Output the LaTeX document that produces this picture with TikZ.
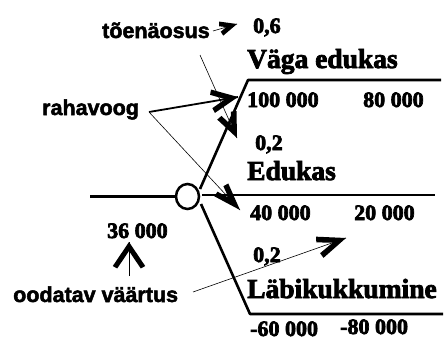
\documentclass[tikz,border=0pt]{standalone}
\usepackage{fontspec}
\setmainfont{Liberation Serif}
\newfontfamily\sansf{Liberation Sans}
\usetikzlibrary{calc,shapes.geometric}
\newcommand\heavy[2]{\special{pdf:literal direct 2 Tr #1 w}#2\special{pdf:literal direct 0 Tr}}
\begin{document}
\begin{tikzpicture}[x=1pt,y=-1pt,
  tree/.style={line width=2.6pt,line join=round},
  lbl/.style={font=\sansf\bfseries\fontsize{21.5}{24}\selectfont,anchor=base west,inner sep=0pt},
  num/.style={font=\bfseries\fontsize{22}{24}\selectfont,anchor=base west,inner sep=0pt},
  outc/.style={font=\bfseries\fontsize{27.5}{30}\selectfont,anchor=base west,inner sep=0pt},
  thinarr/.style={line width=0.6pt},
  thickarr/.style={line width=1.8pt}
]
\useasboundingbox (0,0) rectangle (445,340);

% texts
\node[lbl] (tn) at (102,38) {\heavy{0.5}{tõenäosus}};
\node[num] (p1) at (253,33) {\heavy{0.7}{0,6}};
\node[outc] (ve) at (247,68) {\heavy{0.8}{Väga edukas}};
\node[num] (v1a) at (247,107) {\heavy{0.7}{100 000}};
\node[num] (v1b) at (363,107) {\heavy{0.7}{80 000}};
\node[lbl] (rv) at (42,115) {\heavy{0.5}{rahavoog}};
\node[num] (p2) at (255,150) {\heavy{0.7}{0,2}};
\node[outc] (ed) at (247,180) {\heavy{0.8}{Edukas}};
\node[num] (v2a) at (250,220) {\heavy{0.7}{40 000}};
\node[num] (v2b) at (354,220) {\heavy{0.7}{20 000}};
\node[num] (ev) at (107,238) {\heavy{0.7}{36 000}};
\node[num] (p3) at (253,262) {\heavy{0.7}{0,2}};
\node[outc] (lk) at (247,298) {\heavy{0.8}{Läbikukkumine}};
\node[lbl] (ov) at (13,302) {\heavy{0.5}{oodatav väärtus}};
\node[num] (v3a) at (250,336) {\heavy{0.7}{-60 000}};
\node[num] (v3b) at (340,334) {\heavy{0.7}{-80 000}};

% tree
\coordinate (root) at (90,196.5);
\node[draw,ellipse,line width=2.5pt,minimum width=23pt,minimum height=25pt,inner sep=0pt] (ch) at (187.5,196.5) {};
\coordinate (u0) at (200,189);
\coordinate (u1) at (248,80);
\coordinate (u2) at (441,80);
\coordinate (m0) at (202,195);
\coordinate (m1) at (435,195);
\coordinate (l0) at (201,204);
\coordinate (l1) at (250,314);
\coordinate (l2) at (443,314);
\draw[tree] (root) -- (ch.west);
\draw[tree] (u0) -- (u1) -- (u2);
\draw[tree] (m0) -- (m1);
\draw[tree] (l0) -- (l1) -- (l2);

% annotation arrows: shaft, then a filled open head
% #1 start, #2 tip, #3 barb length, #4 half angle, #5 inner angle, #6 notch distance
\newcommand\arrhead[6]{%
  \fill ($(#2)!#3!#4:(#1)$) -- (#2) -- ($(#2)!#3!-#4:(#1)$) --
        ($(#2)!#3!-#5:(#1)$) -- ($(#2)!#6!(#1)$) -- ($(#2)!#3!#5:(#1)$) -- cycle;}

\coordinate (a1s) at (213,31);
\coordinate (a1e) at (237,24);
\draw[thinarr] (a1s) -- (a1e);
\arrhead{a1s}{a1e}{18pt}{24}{9}{11pt}

\coordinate (rvs) at (149,112);
\coordinate (a2e) at (238,97);
\draw[thickarr] (rvs) -- (a2e);
\arrhead{rvs}{a2e}{28pt}{25}{14}{13pt}
\coordinate (a3e) at (240,210);
\draw[thinarr] (rvs) -- (a3e);
\arrhead{rvs}{a3e}{29pt}{19}{8}{17pt}

\coordinate (a4s) at (200,55);
\coordinate (a4e) at (237,138);
\draw[thinarr] (a4s) -- (a4e);
\arrhead{a4s}{a4e}{27pt}{23}{11}{14pt}

\coordinate (a5s) at (129,276);
\coordinate (a5e) at (129,242);
\draw[thinarr] (a5s) -- (a5e);
\arrhead{a5s}{a5e}{29pt}{34}{24}{9pt}

\coordinate (a6s) at (193,292);
\coordinate (a6e) at (346,238);
\draw[thinarr] (a6s) -- (a6e);
\arrhead{a6s}{a6e}{30pt}{22}{11}{14pt}
\end{tikzpicture}
\end{document}
